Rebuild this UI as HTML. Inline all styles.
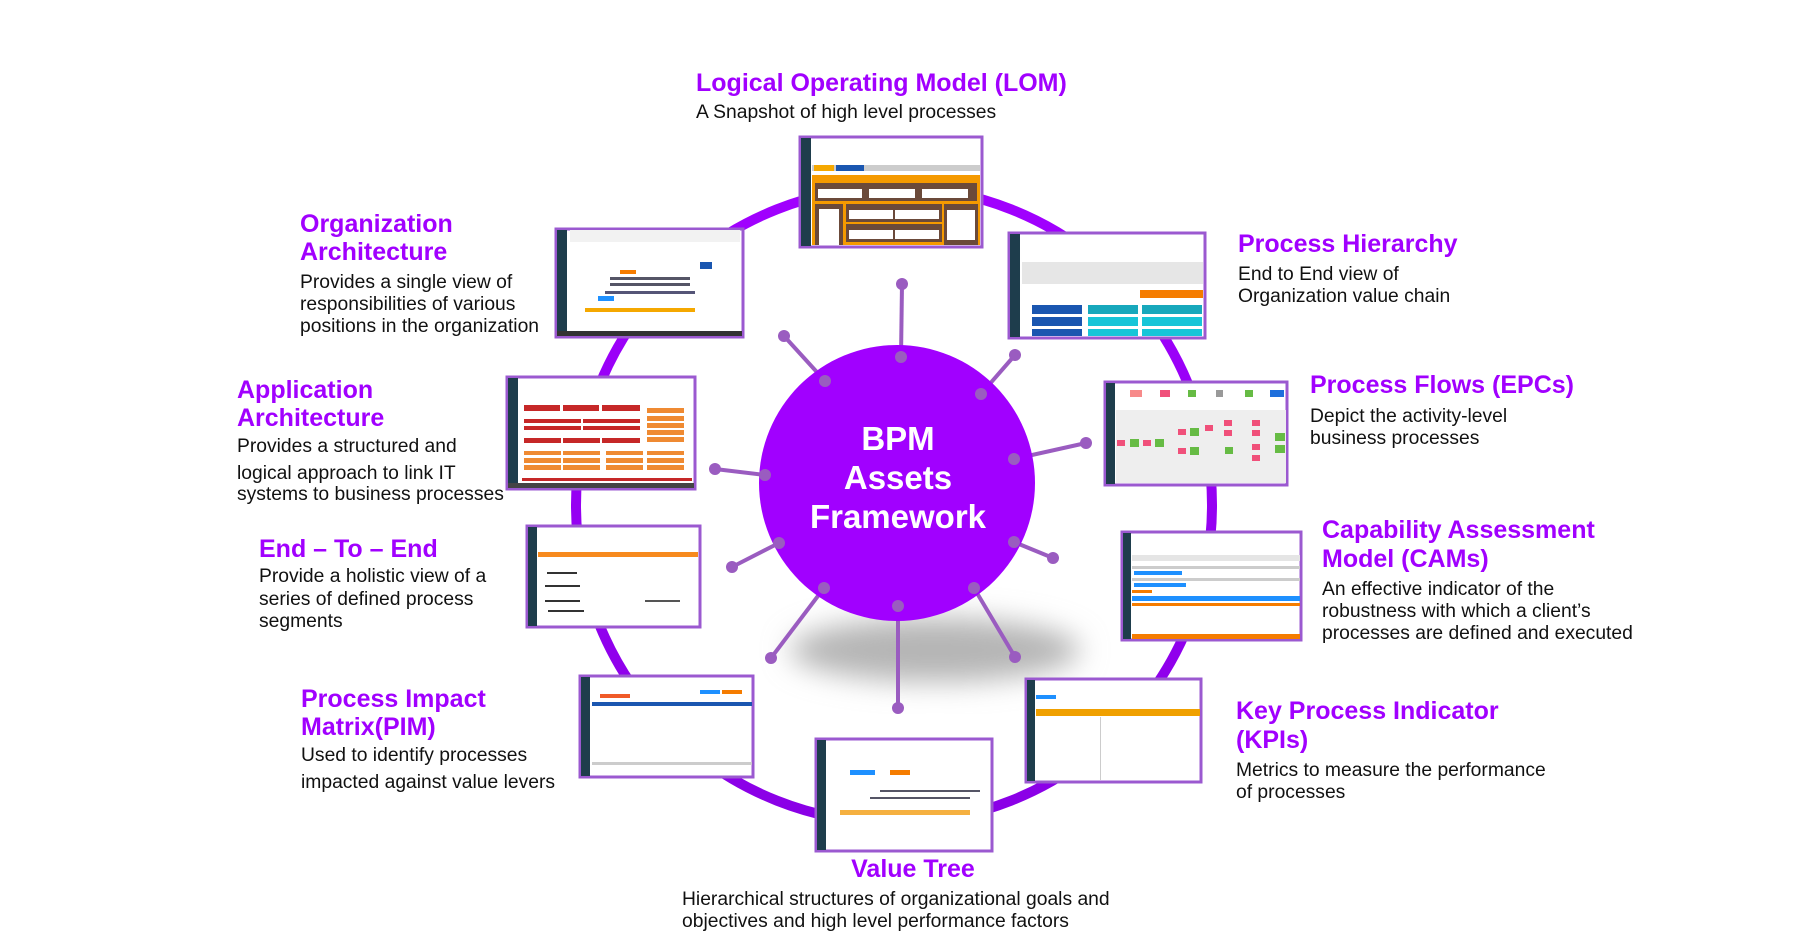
<!DOCTYPE html>
<html><head><meta charset="utf-8"><style>
html,body{margin:0;padding:0;background:#fff;}
svg{display:block;}
.t{font-family:"Liberation Sans",sans-serif;font-weight:bold;fill:#a100ff;font-size:25px;}
.b{font-family:"Liberation Sans",sans-serif;fill:#111;font-size:19.3px;}
.c{font-family:"Liberation Sans",sans-serif;font-weight:bold;fill:#fff;font-size:33px;}
</style></head><body>
<svg width="1799" height="933" viewBox="0 0 1799 933" xmlns="http://www.w3.org/2000/svg">
<defs>
<filter id="bl" x="-50%" y="-50%" width="200%" height="200%"><feGaussianBlur stdDeviation="14"/></filter>
<linearGradient id="rg" x1="0" y1="0" x2="0" y2="1"><stop offset="0" stop-color="#a100ff"/><stop offset="1" stop-color="#8a00e6"/></linearGradient>
</defs>
<circle cx="894" cy="505" r="318" fill="none" stroke="url(#rg)" stroke-width="10"/>
<ellipse cx="935" cy="650" rx="145" ry="32" fill="#b5b5b5" filter="url(#bl)"/>
<g stroke="#9a5cc0" stroke-width="4" fill="#9a5cc0">
<line x1="901" y1="357" x2="902" y2="284"/>
<line x1="825" y1="381" x2="784" y2="336"/>
<line x1="981" y1="394" x2="1015" y2="355"/>
<line x1="1014" y1="459" x2="1086" y2="443"/>
<line x1="765" y1="475" x2="715" y2="469"/>
<line x1="1014" y1="542" x2="1053" y2="558"/>
<line x1="779" y1="543" x2="732" y2="567"/>
<line x1="824" y1="588" x2="771" y2="658"/>
<line x1="898" y1="606" x2="898" y2="708"/>
<line x1="974" y1="588" x2="1015" y2="657"/>
</g>
<circle cx="897" cy="483" r="138" fill="#a100ff"/>
<g fill="#9a5cc0" stroke="none">
<circle cx="901" cy="357" r="6"/><circle cx="902" cy="284" r="6"/>
<circle cx="825" cy="381" r="6"/><circle cx="784" cy="336" r="6"/>
<circle cx="981" cy="394" r="6"/><circle cx="1015" cy="355" r="6"/>
<circle cx="1014" cy="459" r="6"/><circle cx="1086" cy="443" r="6"/>
<circle cx="765" cy="475" r="6"/><circle cx="715" cy="469" r="6"/>
<circle cx="1014" cy="542" r="6"/><circle cx="1053" cy="558" r="6"/>
<circle cx="779" cy="543" r="6"/><circle cx="732" cy="567" r="6"/>
<circle cx="824" cy="588" r="6"/><circle cx="771" cy="658" r="6"/>
<circle cx="898" cy="606" r="6"/><circle cx="898" cy="708" r="6"/>
<circle cx="974" cy="588" r="6"/><circle cx="1015" cy="657" r="6"/>
</g>
<text class="c" x="898" y="450" text-anchor="middle">BPM</text>
<text class="c" x="898" y="489" text-anchor="middle">Assets</text>
<text class="c" x="898" y="528" text-anchor="middle">Framework</text>

<g>
<rect x="800" y="137" width="182" height="110" fill="#fff" stroke="#9b59d0" stroke-width="3"/>
<rect x="801" y="138" width="10" height="108" fill="#1e3d4c"/>
<rect x="812" y="165" width="168" height="6" fill="#ccc"/>
<rect x="814" y="165" width="20" height="6" fill="#f5a800"/>
<rect x="836" y="165" width="28" height="6" fill="#1a56b0"/>
<rect x="812" y="175" width="168" height="70" fill="#f59a00"/>
<rect x="815" y="183" width="162" height="18" fill="#6b4a3a"/>
<rect x="818" y="189" width="44" height="9" fill="#fff"/><rect x="869" y="189" width="46" height="9" fill="#fff"/><rect x="922" y="189" width="46" height="9" fill="#fff"/>
<rect x="815" y="204" width="28" height="41" fill="#6b4a3a"/><rect x="819" y="209" width="20" height="36" fill="#fff"/>
<rect x="846" y="204" width="96" height="18" fill="#6b4a3a"/><rect x="849" y="210" width="44" height="9" fill="#fff"/><rect x="895" y="210" width="44" height="9" fill="#fff"/>
<rect x="846" y="224" width="96" height="18" fill="#6b4a3a"/><rect x="849" y="230" width="44" height="9" fill="#fff"/><rect x="895" y="230" width="44" height="9" fill="#fff"/>
<rect x="944" y="204" width="34" height="41" fill="#6b4a3a"/><rect x="947" y="210" width="28" height="30" fill="#fff"/>
</g>
<g>
<rect x="1009" y="233" width="196" height="105" fill="#fff" stroke="#9b59d0" stroke-width="3"/>
<rect x="1010" y="234" width="10" height="103" fill="#1e3d4c"/>
<rect x="1022" y="262" width="181" height="22" fill="#e6e6e6"/>
<rect x="1140" y="290" width="63" height="8" fill="#f57c00"/>
<rect x="1032" y="305" width="50" height="9" fill="#1a56b0"/><rect x="1032" y="317" width="50" height="9" fill="#1a56b0"/><rect x="1032" y="329" width="50" height="7" fill="#1a56b0"/>
<rect x="1088" y="305" width="50" height="9" fill="#17a8bc"/><rect x="1088" y="317" width="50" height="9" fill="#17c5d8"/><rect x="1088" y="329" width="50" height="7" fill="#17c5d8"/>
<rect x="1142" y="305" width="60" height="9" fill="#17a8bc"/><rect x="1142" y="317" width="60" height="9" fill="#17c5d8"/><rect x="1142" y="329" width="60" height="7" fill="#17c5d8"/>
</g>
<g>
<rect x="556" y="229" width="187" height="108" fill="#fff" stroke="#9b59d0" stroke-width="3"/>
<rect x="557" y="230" width="10" height="106" fill="#1e3d4c"/>
<rect x="570" y="230" width="170" height="12" fill="#f2f2f2"/>
<rect x="557" y="331" width="185" height="5" fill="#333"/>
<rect x="620" y="270" width="16" height="4" fill="#f57c00"/>
<rect x="610" y="277" width="80" height="3" fill="#556"/><rect x="610" y="283" width="80" height="3" fill="#556"/><rect x="605" y="291" width="90" height="3" fill="#557"/>
<rect x="598" y="296" width="16" height="5" fill="#1e90ff"/>
<rect x="585" y="308" width="110" height="4" fill="#f5a800"/>
<rect x="700" y="262" width="12" height="7" fill="#1a56b0"/>
</g>
<g>
<rect x="1105" y="382" width="182" height="103" fill="#fff" stroke="#9b59d0" stroke-width="3"/>
<rect x="1106" y="383" width="9" height="101" fill="#1e3d4c"/>
<rect x="1116" y="410" width="170" height="73" fill="#eee"/>
<rect x="1130" y="390" width="12" height="7" fill="#f78a8a"/><rect x="1160" y="390" width="10" height="7" fill="#f0507a"/><rect x="1188" y="390" width="8" height="7" fill="#66bb44"/><rect x="1216" y="390" width="7" height="7" fill="#999"/><rect x="1245" y="390" width="8" height="7" fill="#66bb44"/><rect x="1270" y="390" width="14" height="7" fill="#1e6fdc"/>
<g fill="#f0507a"><rect x="1117" y="440" width="8" height="6"/><rect x="1143" y="440" width="8" height="6"/><rect x="1178" y="429" width="8" height="6"/><rect x="1178" y="448" width="8" height="6"/><rect x="1205" y="425" width="8" height="6"/><rect x="1224" y="420" width="8" height="6"/><rect x="1224" y="430" width="8" height="6"/><rect x="1252" y="420" width="8" height="6"/><rect x="1252" y="430" width="8" height="6"/><rect x="1252" y="444" width="8" height="6"/><rect x="1252" y="455" width="8" height="6"/></g>
<g fill="#66bb44"><rect x="1130" y="439" width="9" height="8"/><rect x="1155" y="439" width="9" height="8"/><rect x="1190" y="428" width="9" height="8"/><rect x="1190" y="447" width="9" height="8"/><rect x="1225" y="447" width="8" height="7"/><rect x="1275" y="433" width="10" height="8"/><rect x="1275" y="445" width="10" height="8"/></g>
</g>
<g>
<rect x="507" y="377" width="188" height="112" fill="#fff" stroke="#9b59d0" stroke-width="3"/>
<rect x="508" y="378" width="10" height="110" fill="#1e3d4c"/>
<rect x="508" y="483" width="186" height="5" fill="#444"/>
<g fill="#c62828"><rect x="524" y="405" width="36" height="6"/><rect x="563" y="405" width="36" height="6"/><rect x="602" y="405" width="38" height="6"/><rect x="524" y="419" width="57" height="4"/><rect x="583" y="419" width="57" height="4"/><rect x="524" y="426" width="57" height="4"/><rect x="583" y="426" width="57" height="4"/><rect x="524" y="438" width="37" height="5"/><rect x="563" y="438" width="37" height="5"/><rect x="602" y="438" width="38" height="5"/><rect x="522" y="478" width="170" height="3"/></g>
<g fill="#ef8a32"><rect x="647" y="408" width="37" height="5"/><rect x="647" y="416" width="37" height="5"/><rect x="647" y="423" width="37" height="5"/><rect x="647" y="430" width="37" height="5"/><rect x="647" y="437" width="37" height="5"/><rect x="524" y="451" width="37" height="4"/><rect x="563" y="451" width="37" height="4"/><rect x="524" y="458" width="37" height="5"/><rect x="563" y="458" width="37" height="5"/><rect x="524" y="465" width="37" height="5"/><rect x="563" y="465" width="37" height="5"/><rect x="606" y="451" width="37" height="4"/><rect x="647" y="451" width="37" height="4"/><rect x="606" y="458" width="37" height="5"/><rect x="647" y="458" width="37" height="5"/><rect x="606" y="465" width="37" height="5"/><rect x="647" y="465" width="37" height="5"/></g>
</g>
<g>
<rect x="1122" y="532" width="179" height="108" fill="#fff" stroke="#9b59d0" stroke-width="3"/>
<rect x="1123" y="533" width="8" height="106" fill="#1e3d4c"/>
<rect x="1132" y="555" width="168" height="6" fill="#e5e5e5"/>
<rect x="1132" y="566" width="168" height="3" fill="#ccc"/><rect x="1134" y="571" width="48" height="4" fill="#1e90ff"/>
<rect x="1132" y="578" width="168" height="3" fill="#ccc"/><rect x="1134" y="583" width="52" height="4" fill="#1e90ff"/>
<rect x="1132" y="590" width="20" height="3" fill="#f57c00"/>
<rect x="1132" y="596" width="168" height="5" fill="#1e90ff"/>
<rect x="1132" y="603" width="168" height="3" fill="#f57c00"/>
<rect x="1132" y="634" width="168" height="5" fill="#f57c00"/>
</g>
<g>
<rect x="527" y="526" width="173" height="101" fill="#fff" stroke="#9b59d0" stroke-width="3"/>
<rect x="528" y="527" width="9" height="99" fill="#1e3d4c"/>
<rect x="538" y="552" width="160" height="5" fill="#f78a1e"/>
<rect x="547" y="572" width="30" height="2" fill="#333"/><rect x="545" y="585" width="35" height="2" fill="#333"/><rect x="545" y="600" width="35" height="2" fill="#333"/><rect x="548" y="610" width="36" height="2" fill="#333"/>
<rect x="645" y="600" width="35" height="2" fill="#555"/>
</g>
<g>
<rect x="1026" y="679" width="175" height="103" fill="#fff" stroke="#9b59d0" stroke-width="3"/>
<rect x="1027" y="680" width="8" height="101" fill="#1e3d4c"/>
<rect x="1036" y="695" width="20" height="4" fill="#1e90ff"/>
<rect x="1036" y="709" width="164" height="7" fill="#f0a000"/>
<rect x="1100" y="717" width="1" height="63" fill="#ccc"/>
</g>
<g>
<rect x="580" y="676" width="173" height="101" fill="#fff" stroke="#9b59d0" stroke-width="3"/>
<rect x="581" y="677" width="9" height="99" fill="#1e3d4c"/>
<rect x="592" y="702" width="160" height="4" fill="#1a56b0"/>
<rect x="600" y="694" width="30" height="4" fill="#f05a28"/><rect x="700" y="690" width="20" height="4" fill="#1e90ff"/><rect x="722" y="690" width="20" height="4" fill="#f57c00"/>
<rect x="592" y="762" width="160" height="3" fill="#ccc"/>
</g>
<g>
<rect x="816" y="739" width="176" height="112" fill="#fff" stroke="#9b59d0" stroke-width="3"/>
<rect x="817" y="740" width="9" height="110" fill="#1e3d4c"/>
<rect x="850" y="770" width="25" height="5" fill="#1e90ff"/><rect x="890" y="770" width="20" height="5" fill="#f57c00"/>
<rect x="880" y="790" width="100" height="2" fill="#556"/><rect x="870" y="797" width="100" height="2" fill="#556"/>
<rect x="840" y="810" width="130" height="5" fill="#f5b040"/>
</g>

<text class="t" x="696" y="91">Logical Operating Model (LOM)</text>
<text class="b" x="696" y="118">A Snapshot of high level processes</text>

<text class="t" x="300" y="232">Organization</text>
<text class="t" x="300" y="260">Architecture</text>
<text class="b" x="300" y="288">Provides a single view of</text>
<text class="b" x="300" y="310">responsibilities of various</text>
<text class="b" x="300" y="332">positions in the organization</text>

<text class="t" x="1238" y="252">Process Hierarchy</text>
<text class="b" x="1238" y="280">End to End view of</text>
<text class="b" x="1238" y="302">Organization value chain</text>

<text class="t" x="237" y="398">Application</text>
<text class="t" x="237" y="426">Architecture</text>
<text class="b" x="237" y="452">Provides a structured and</text>
<text class="b" x="237" y="479">logical approach to link IT</text>
<text class="b" x="237" y="500">systems to business processes</text>

<text class="t" x="1310" y="393">Process Flows (EPCs)</text>
<text class="b" x="1310" y="422">Depict the activity-level</text>
<text class="b" x="1310" y="444">business processes</text>

<text class="t" x="1322" y="538">Capability Assessment</text>
<text class="t" x="1322" y="567">Model (CAMs)</text>
<text class="b" x="1322" y="595">An effective indicator of the</text>
<text class="b" x="1322" y="617">robustness with which a client’s</text>
<text class="b" x="1322" y="639">processes are defined and executed</text>

<text class="t" x="259" y="557">End – To – End</text>
<text class="b" x="259" y="582">Provide a holistic view of a</text>
<text class="b" x="259" y="605">series of defined process</text>
<text class="b" x="259" y="627">segments</text>

<text class="t" x="301" y="707">Process Impact</text>
<text class="t" x="301" y="735">Matrix(PIM)</text>
<text class="b" x="301" y="761">Used to identify processes</text>
<text class="b" x="301" y="788"> impacted against value levers</text>

<text class="t" x="1236" y="719">Key Process Indicator</text>
<text class="t" x="1236" y="748">(KPIs)</text>
<text class="b" x="1236" y="776">Metrics to measure the performance</text>
<text class="b" x="1236" y="798">of processes</text>

<text class="t" x="913" y="877" text-anchor="middle">Value Tree</text>
<text class="b" x="682" y="905">Hierarchical structures of organizational goals and</text>
<text class="b" x="682" y="927">objectives and high level performance factors</text>
</svg>
</body></html>
